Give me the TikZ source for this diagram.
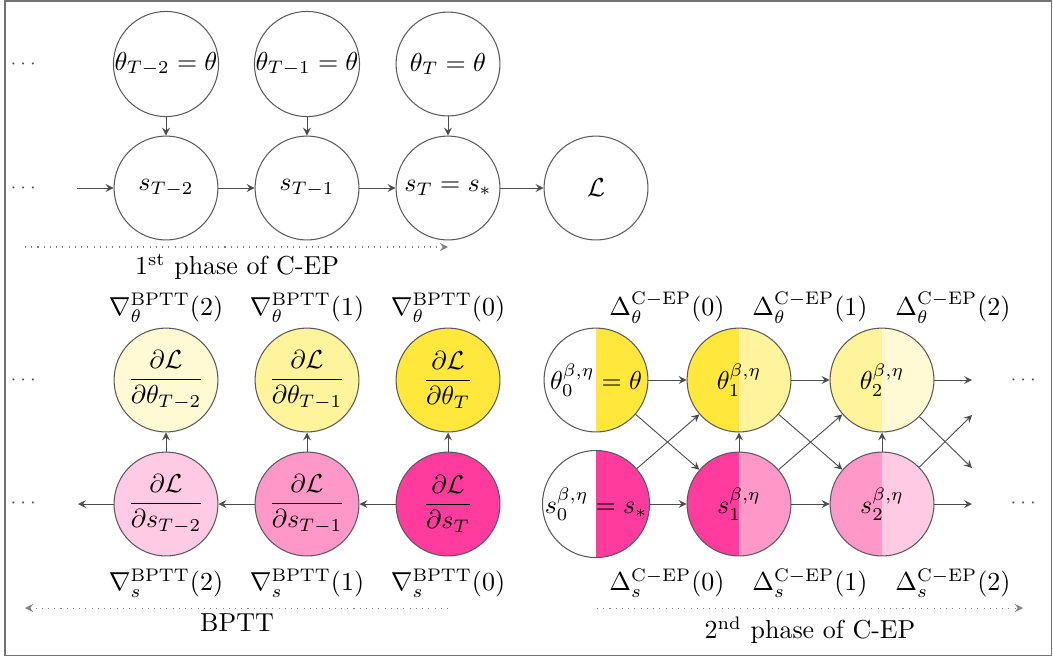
\documentclass[tikz,border=0pt]{standalone}
\usepackage{xcolor}
\usepackage{amsmath}
\usepackage{tikz}

\definecolor{yelA}{HTML}{FFE83B}
\definecolor{yelB}{HTML}{FFF39B}
\definecolor{yelC}{HTML}{FFF9D4}
\definecolor{pinkA}{HTML}{FF3B9E}
\definecolor{pinkB}{HTML}{FF98C9}
\definecolor{pinkC}{HTML}{FFCBE4}

\begin{document}
\begin{tikzpicture}[x=0.385pt, y=-0.385pt,
  circ/.style={circle, draw=black!65, minimum size=40pt, inner sep=0pt},
  half/.style 2 args={circ, path picture={
      \fill[#1] (path picture bounding box.south west) rectangle (path picture bounding box.north);
      \fill[#2] (path picture bounding box.south) rectangle (path picture bounding box.north east);}},
  arrow/.style={->, >=stealth, black!70, line width=0.35pt},
  phase/.style={->, >=stealth, dotted, black!50},
  dots/.style={font=\scriptsize, text=black!70},
]
  \useasboundingbox (0,0) rectangle (1053,657);
  \draw[black!55] (5,1) rectangle (1051,655);

  % 1st phase of C-EP
  \node[dots] (dotsA) at (25,64) {$\cdots$};
  \node[dots] (dotsB) at (25,188) {$\cdots$};
  \node[circ] (th2) at (166,64) {$\theta_{T-2}=\theta$};
  \node[circ] (th1) at (307,64) {$\theta_{T-1}=\theta$};
  \node[circ] (th0) at (448,64) {$\theta_{T}=\theta$};
  \node[circ] (st2) at (166,188) {$s_{T-2}$};
  \node[circ] (st1) at (307,188) {$s_{T-1}$};
  \node[circ] (st0) at (448,188) {$s_{T}=s_*$};
  \node[circ] (loss) at (596,188) {$\mathcal{L}$};
  \coordinate (inA) at (77,188);

  \draw[arrow] (th2) -- (st2);
  \draw[arrow] (th1) -- (st1);
  \draw[arrow] (th0) -- (st0);
  \draw[arrow] (inA) -- (st2);
  \draw[arrow] (st2) -- (st1);
  \draw[arrow] (st1) -- (st0);
  \draw[arrow] (st0) -- (loss);

  \coordinate (p1a) at (25,247);
  \coordinate (p1b) at (448,247);
  \draw[phase] (p1a) -- (p1b);
  \node (p1lab) at (237,267) {1\textsuperscript{st} phase of C-EP};

  % BPTT
  \node[dots] (dotsC) at (25,380) {$\cdots$};
  \node[dots] (dotsD) at (25,503) {$\cdots$};
  \node (gtl2) at (166,308) {$\nabla_\theta^{\mathrm{BPTT}}(2)$};
  \node (gtl1) at (307,308) {$\nabla_\theta^{\mathrm{BPTT}}(1)$};
  \node (gtl0) at (448,308) {$\nabla_\theta^{\mathrm{BPTT}}(0)$};
  \node[circ, fill=yelC] (gt2) at (166,380) {$\dfrac{\partial\mathcal{L}}{\partial\theta_{T-2}}$};
  \node[circ, fill=yelB] (gt1) at (307,380) {$\dfrac{\partial\mathcal{L}}{\partial\theta_{T-1}}$};
  \node[circ, fill=yelA] (gt0) at (448,380) {$\dfrac{\partial\mathcal{L}}{\partial\theta_{T}}$};
  \node[circ, fill=pinkC] (gs2) at (166,504) {$\dfrac{\partial\mathcal{L}}{\partial s_{T-2}}$};
  \node[circ, fill=pinkB] (gs1) at (307,504) {$\dfrac{\partial\mathcal{L}}{\partial s_{T-1}}$};
  \node[circ, fill=pinkA] (gs0) at (448,504) {$\dfrac{\partial\mathcal{L}}{\partial s_{T}}$};
  \node (gsl2) at (166,583) {$\nabla_s^{\mathrm{BPTT}}(2)$};
  \node (gsl1) at (307,583) {$\nabla_s^{\mathrm{BPTT}}(1)$};
  \node (gsl0) at (448,583) {$\nabla_s^{\mathrm{BPTT}}(0)$};
  \coordinate (outB) at (78,504);

  \draw[arrow] (gs2) -- (gt2);
  \draw[arrow] (gs1) -- (gt1);
  \draw[arrow] (gs0) -- (gt0);
  \draw[arrow] (gs0) -- (gs1);
  \draw[arrow] (gs1) -- (gs2);
  \draw[arrow] (gs2) -- (outB);

  \coordinate (p2a) at (448,608);
  \coordinate (p2b) at (25,608);
  \draw[phase] (p2a) -- (p2b);
  \node (p2lab) at (237,623) {BPTT};

  % 2nd phase of C-EP
  \node (dtl0) at (667,308) {$\Delta_\theta^{\mathrm{C-EP}}(0)$};
  \node (dtl1) at (810,308) {$\Delta_\theta^{\mathrm{C-EP}}(1)$};
  \node (dtl2) at (953,308) {$\Delta_\theta^{\mathrm{C-EP}}(2)$};
  \node[half={white}{yelA}] (ep0) at (596,380) {$\theta_0^{\beta,\eta}=\theta$};
  \node[half={yelA}{yelB}] (ep1) at (739,380) {$\theta_1^{\beta,\eta}$};
  \node[half={yelB}{yelC}] (ep2) at (882,380) {$\theta_2^{\beta,\eta}$};
  \node[half={white}{pinkA}] (es0) at (596,504) {$s_0^{\beta,\eta}=s_*$};
  \node[half={pinkA}{pinkB}] (es1) at (739,504) {$s_1^{\beta,\eta}$};
  \node[half={pinkB}{pinkC}] (es2) at (882,504) {$s_2^{\beta,\eta}$};
  \node (dsl0) at (667,583) {$\Delta_s^{\mathrm{C-EP}}(0)$};
  \node (dsl1) at (810,583) {$\Delta_s^{\mathrm{C-EP}}(1)$};
  \node (dsl2) at (953,583) {$\Delta_s^{\mathrm{C-EP}}(2)$};
  \node[dots] (dotsE) at (1025,380) {$\cdots$};
  \node[dots] (dotsF) at (1025,503) {$\cdots$};
  \coordinate (thout) at (972,380);
  \coordinate (sout) at (972,504);
  \coordinate (thx) at (972,468);
  \coordinate (sx) at (972,415);

  \draw[arrow] (ep0) -- (ep1);
  \draw[arrow] (ep1) -- (ep2);
  \draw[arrow] (ep2) -- (thout);
  \draw[arrow] (es0) -- (es1);
  \draw[arrow] (es1) -- (es2);
  \draw[arrow] (es2) -- (sout);
  \draw[arrow] (es1) -- (ep1);
  \draw[arrow] (es2) -- (ep2);
  \draw[arrow] (ep0) -- (es1);
  \draw[arrow] (es0) -- (ep1);
  \draw[arrow] (ep1) -- (es2);
  \draw[arrow] (es1) -- (ep2);
  \draw[arrow] (ep2) -- (thx);
  \draw[arrow] (es2) -- (sx);

  \coordinate (p3a) at (597,608);
  \coordinate (p3b) at (1023,608);
  \draw[phase] (p3a) -- (p3b);
  \node (p3lab) at (810,630) {2\textsuperscript{nd} phase of C-EP};
\end{tikzpicture}
\end{document}
